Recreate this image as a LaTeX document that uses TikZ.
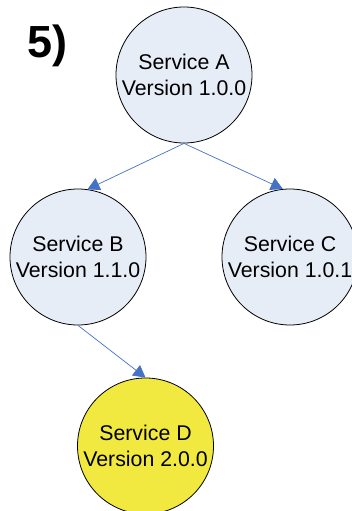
\documentclass[tikz,border=0pt]{standalone}
\usepackage{fontspec}
\setmainfont{Liberation Sans}
\usetikzlibrary{arrows.meta}
\definecolor{nodefill}{HTML}{E7EDF7}
\definecolor{yellowfill}{HTML}{F1E940}
\definecolor{linkblue}{HTML}{4472C4}
\begin{document}
\begin{tikzpicture}[x=1pt,y=-1pt,
  svc/.style={circle,draw=black,line width=0.8pt,fill=nodefill,minimum size=136pt,inner sep=0pt,align=center,font=\fontsize{21.3}{25.5}\selectfont},
  link/.style={draw=linkblue,line width=0.7pt,-{Triangle[length=12pt,width=13pt]},linkblue}]
\useasboundingbox (0,0) rectangle (351,511);
\node[svc] (A) at (184,75) {Service A\\Version 1.0.0};
\node[svc] (B) at (78,257) {Service B\\Version 1.1.0};
\node[svc] (C) at (290,257) {Service C\\Version 1.0.1};
\node[svc,fill=yellowfill] (D) at (145.5,446) {Service D\\Version 2.0.0};
\node[font=\fontsize{45}{50}\selectfont\bfseries,anchor=center] (lbl) at (47.5,46) {5)};
\draw[link] (A.south) -- (B.82);
\draw[link] (A.south) -- (C.96);
\draw[link] (B.south) -- (D.north);
\end{tikzpicture}
\end{document}
